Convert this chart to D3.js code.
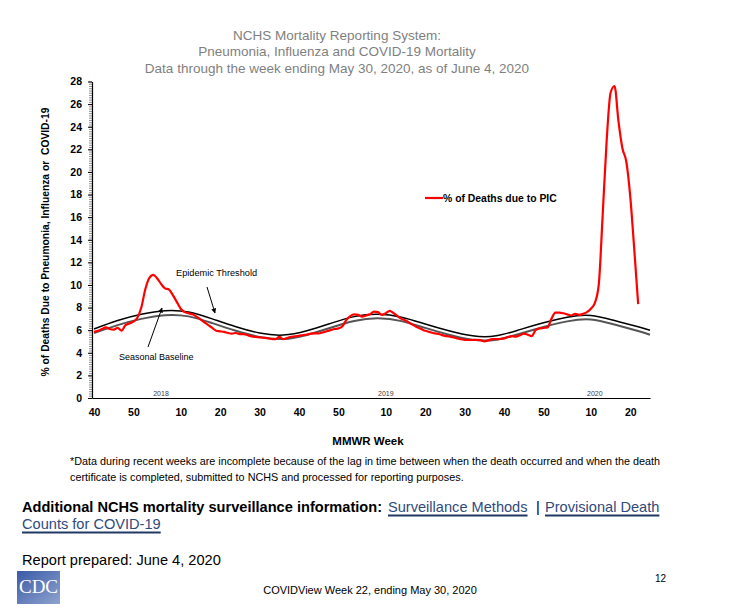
<!DOCTYPE html>
<html>
<head>
<meta charset="utf-8">
<script src="https://cdn.jsdelivr.net/npm/d3@7"></script>
<style>
  body { margin: 0; background: #fff; }
  svg { display: block; }
</style>
</head>
<body>
<svg id="chart" width="737" height="614"></svg>
<script>
// weekly % of deaths due to PIC, 2017 wk40 .. 2020 wk22 (index 0 = 2017 wk40)
const picValues = [
  5.85, 5.95, 6.1, 6.25, 6.1, 6.05, 6.2, 5.95, 6.45, 6.6,
  6.75, 7.1, 8.0, 9.6, 10.6, 10.9, 10.6, 10.1, 9.7, 9.6,
  9.1, 8.5, 7.9, 7.6, 7.5, 7.4, 7.2, 6.95, 6.7, 6.45,
  6.2, 5.95, 5.9, 5.85, 5.75, 5.7, 5.75, 5.65, 5.65, 5.55,
  5.45, 5.4, 5.37, 5.33, 5.3, 5.22, 5.2, 5.4, 5.2, 5.3,
  5.42, 5.45, 5.5, 5.57, 5.62, 5.7, 5.72, 5.72, 5.8, 5.9,
  6.0, 6.1, 6.16, 6.35, 6.9, 7.25, 7.4, 7.35, 7.2, 7.3,
  7.4, 7.65, 7.6, 7.35, 7.5, 7.7, 7.5, 7.25, 7.0, 6.85,
  6.65, 6.45, 6.25, 6.1, 5.95, 5.85, 5.75, 5.7, 5.6, 5.5,
  5.45, 5.37, 5.28, 5.2, 5.15, 5.13, 5.13, 5.15, 5.12, 5.0,
  5.1, 5.2, 5.2, 5.22, 5.27, 5.4, 5.48, 5.42, 5.55, 5.7,
  5.6, 5.48, 6.0, 6.15, 6.2, 6.25, 7.0, 7.55, 7.55, 7.5,
  7.4, 7.3, 7.45, 7.35, 7.45, 7.6, 7.9, 8.4, 10.0, 16.2,
  22.7, 27.0, 27.6, 24.5, 22.1, 20.9, 17.8, 13.2, 8.3
];

// threshold / baseline read every 6 weeks
const curveWeeks = [0, 6, 12, 18, 24, 30, 36, 42, 48, 54, 60, 66, 72, 78, 84, 90, 96, 102, 108, 114, 120, 126, 132, 138, 141];
const thresholdValues = [6.1, 6.85, 7.4, 7.72, 7.6, 7.0, 6.3, 5.75, 5.57, 5.95, 6.6, 7.2, 7.4, 7.15, 6.55, 5.95, 5.5, 5.5, 6.05, 6.65, 7.15, 7.3, 6.85, 6.3, 6.0];
const baselineValues = [5.75, 6.45, 7.0, 7.33, 7.22, 6.62, 5.95, 5.4, 5.22, 5.58, 6.22, 6.82, 7.05, 6.8, 6.2, 5.6, 5.15, 5.15, 5.68, 6.28, 6.78, 6.95, 6.5, 5.92, 5.6];

const xTickWeeks = [0, 10, 22, 32, 42, 52, 62, 74, 84, 94, 104, 114, 126, 136];
const xTickLabels = ["40", "50", "10", "20", "30", "40", "50", "10", "20", "30", "40", "50", "10", "20"];
const yearLabels = ["2018", "2019", "2020"];
const yearLabelWeeks = [17, 74, 127];
const yTicks = d3.range(0, 29, 2);

const svg = d3.select("#chart");

const x = d3.scaleLinear().domain([-0.5, 141]).range([92, 650]);
const y = d3.scaleLinear().domain([0, 28]).range([398, 81.5]);

// title
const titleLines = [
  "NCHS Mortality Reporting System:",
  "Pneumonia, Influenza and COVID-19 Mortality",
  "Data through the week ending May 30, 2020, as of June 4, 2020"
];
svg.append("g")
  .selectAll("text")
  .data(titleLines)
  .enter()
  .append("text")
  .attr("x", 337)
  .attr("y", (d, i) => 39.5 + i * 16.5)
  .attr("text-anchor", "middle")
  .style("font-family", "Liberation Sans, Arial, sans-serif")
  .style("font-size", "13.5px")
  .style("fill", "#7f7f7f")
  .text(d => d);

// y axis with minor ticks
svg.append("g")
  .attr("transform", "translate(92,0)")
  .call(d3.axisLeft(y).tickValues(d3.range(0, 28.01, 0.2)).tickSize(3).tickFormat(""))
  .call(g => g.select(".domain").remove())
  .selectAll("line").attr("stroke", "#444").attr("stroke-width", 0.6);

const yAxis = svg.append("g")
  .attr("transform", "translate(92,0)")
  .call(d3.axisLeft(y).tickValues(yTicks).tickSize(4).tickSizeOuter(0).tickPadding(6));
yAxis.select(".domain").attr("stroke", "#000").attr("stroke-width", 1.2);
yAxis.selectAll("line").attr("stroke", "#000");
yAxis.selectAll("text")
  .style("font-family", "Liberation Sans, Arial, sans-serif")
  .style("font-weight", "bold")
  .style("font-size", "10.5px")
  .attr("fill", "#000");

// x axis
const xAxis = svg.append("g")
  .attr("transform", "translate(0,398)")
  .call(d3.axisBottom(x).tickValues(xTickWeeks).tickFormat((d, i) => xTickLabels[i]).tickSize(0).tickPadding(11));
xAxis.select(".domain").attr("stroke", "#000").attr("stroke-width", 1.2);
xAxis.selectAll("text")
  .style("font-family", "Liberation Sans, Arial, sans-serif")
  .style("font-weight", "bold")
  .style("font-size", "10.5px")
  .attr("fill", "#000");

// year labels
svg.append("g")
  .selectAll("text")
  .data(yearLabels)
  .enter()
  .append("text")
  .attr("x", (d, i) => x(yearLabelWeeks[i]))
  .attr("y", 396)
  .attr("text-anchor", "middle")
  .style("font-family", "Liberation Sans, Arial, sans-serif")
  .style("font-size", "7px")
  .style("fill", "#404040")
  .text(d => d);

// axis titles
svg.append("text")
  .attr("x", 368)
  .attr("y", 445)
  .attr("text-anchor", "middle")
  .style("font-family", "Liberation Sans, Arial, sans-serif")
  .style("font-weight", "bold")
  .style("font-size", "11.5px")
  .text("MMWR Week");

svg.append("text")
  .attr("transform", "translate(49,242) rotate(-90)")
  .attr("text-anchor", "middle")
  .style("font-family", "Liberation Sans, Arial, sans-serif")
  .style("font-weight", "bold")
  .style("font-size", "10.3px")
  .style("white-space", "pre")
  .text("% of Deaths Due to Pneumonia, Influenza or  COVID-19");

// threshold & baseline
const lineSmooth = d3.line()
  .x((d, i) => x(curveWeeks[i]))
  .y(d => y(d))
  .curve(d3.curveNatural);

svg.append("path")
  .datum(baselineValues)
  .attr("d", lineSmooth)
  .attr("fill", "none")
  .attr("stroke", "#555")
  .attr("stroke-width", 2);

svg.append("path")
  .datum(thresholdValues)
  .attr("d", lineSmooth)
  .attr("fill", "none")
  .attr("stroke", "#000")
  .attr("stroke-width", 1.5);

// PIC line
const linePic = d3.line()
  .x((d, i) => x(i))
  .y(d => y(d))
  .curve(d3.curveMonotoneX);

svg.append("path")
  .datum(picValues)
  .attr("d", linePic)
  .attr("fill", "none")
  .attr("stroke", "#ff0000")
  .attr("stroke-width", 2.2);

// arrow marker
svg.append("defs")
  .append("marker")
  .attr("id", "arrow")
  .attr("viewBox", "0 0 10 10")
  .attr("refX", 9)
  .attr("refY", 5)
  .attr("markerWidth", 5)
  .attr("markerHeight", 5)
  .attr("orient", "auto")
  .append("path")
  .attr("d", "M0,0 L10,5 L0,10 z")
  .attr("fill", "#000");

// annotations
svg.append("text")
  .attr("x", 176)
  .attr("y", 276)
  .style("font-family", "Liberation Sans, Arial, sans-serif")
  .style("font-size", "9.2px")
  .text("Epidemic Threshold");

svg.append("line")
  .attr("x1", 207).attr("y1", 287)
  .attr("x2", 215).attr("y2", 313)
  .attr("stroke", "#000")
  .attr("stroke-width", 1)
  .attr("marker-end", "url(#arrow)");

svg.append("text")
  .attr("x", 119)
  .attr("y", 360)
  .style("font-family", "Liberation Sans, Arial, sans-serif")
  .style("font-size", "9px")
  .text("Seasonal Baseline");

svg.append("line")
  .attr("x1", 148).attr("y1", 347)
  .attr("x2", 162).attr("y2", 308)
  .attr("stroke", "#000")
  .attr("stroke-width", 1)
  .attr("marker-end", "url(#arrow)");

// legend
svg.append("line")
  .attr("x1", 425).attr("x2", 443)
  .attr("y1", 198).attr("y2", 198)
  .attr("stroke", "#ff0000")
  .attr("stroke-width", 2.2);

svg.append("text")
  .attr("x", 443)
  .attr("y", 202)
  .style("font-family", "Liberation Sans, Arial, sans-serif")
  .style("font-weight", "bold")
  .style("font-size", "10.4px")
  .text("% of Deaths due to PIC");

// footnote and page text
const footLines = [
  "*Data during recent weeks are incomplete because of the lag in time between when the death occurred and when the death",
  "certificate is completed, submitted to NCHS and processed for reporting purposes."
];
svg.append("g")
  .selectAll("text")
  .data(footLines)
  .enter()
  .append("text")
  .attr("x", 70)
  .attr("y", (d, i) => 465 + i * 16)
  .style("font-family", "Liberation Sans Narrow, Liberation Sans, Arial, sans-serif")
  .style("font-size", "10.8px")
  .text(d => d);

svg.append("text")
  .attr("x", 22)
  .attr("y", 512)
  .style("font-family", "Liberation Sans, Arial, sans-serif")
  .style("font-weight", "bold")
  .style("font-size", "14.6px")
  .text("Additional NCHS mortality surveillance information:");

const linkColor = "#2f4a7c";
const links = [
  { text: "Surveillance Methods", x: 388, y: 512 },
  { text: "Provisional Death", x: 545, y: 512 },
  { text: "Counts for COVID-19", x: 22, y: 529 }
];
links.forEach(l => {
  const t = svg.append("text")
    .attr("x", l.x)
    .attr("y", l.y)
    .style("font-family", "Liberation Sans, Arial, sans-serif")
    .style("font-size", "14.6px")
    .style("fill", linkColor)
    .text(l.text);
  const w = t.node().getComputedTextLength();
  svg.append("line")
    .attr("x1", l.x).attr("x2", l.x + w)
    .attr("y1", l.y + 3.5).attr("y2", l.y + 3.5)
    .attr("stroke", "#1f3864")
    .attr("stroke-width", 2);
});

svg.append("text")
  .attr("x", 536)
  .attr("y", 512)
  .style("font-family", "Liberation Sans, Arial, sans-serif")
  .style("font-size", "14.6px")
  .text("|");

svg.append("text")
  .attr("x", 22)
  .attr("y", 565)
  .style("font-family", "Liberation Sans, Arial, sans-serif")
  .style("font-size", "14.6px")
  .text("Report prepared: June 4, 2020");

svg.append("text")
  .attr("x", 370)
  .attr("y", 594)
  .attr("text-anchor", "middle")
  .style("font-family", "Liberation Sans Narrow, Liberation Sans, Arial, sans-serif")
  .style("font-size", "11px")
  .text("COVIDView Week 22, ending May 30, 2020");

svg.append("text")
  .attr("x", 655)
  .attr("y", 582)
  .style("font-family", "Liberation Sans, Arial, sans-serif")
  .style("font-size", "10px")
  .text("12");

// CDC logo
const grad = svg.select("defs").append("linearGradient")
  .attr("id", "cdcGrad")
  .attr("x1", 0).attr("y1", 0).attr("x2", 1).attr("y2", 1);
grad.append("stop").attr("offset", "0%").attr("stop-color", "#3a5aa6");
grad.append("stop").attr("offset", "100%").attr("stop-color", "#8fa3cf");

svg.append("rect")
  .attr("x", 17).attr("y", 571)
  .attr("width", 43).attr("height", 33)
  .attr("fill", "url(#cdcGrad)");

svg.append("text")
  .attr("x", 38.5)
  .attr("y", 593)
  .attr("text-anchor", "middle")
  .style("font-family", "Liberation Serif, DejaVu Serif, serif")
  .style("font-size", "19px")
  .style("fill", "#fff")
  .text("CDC");
</script>
</body>
</html>
